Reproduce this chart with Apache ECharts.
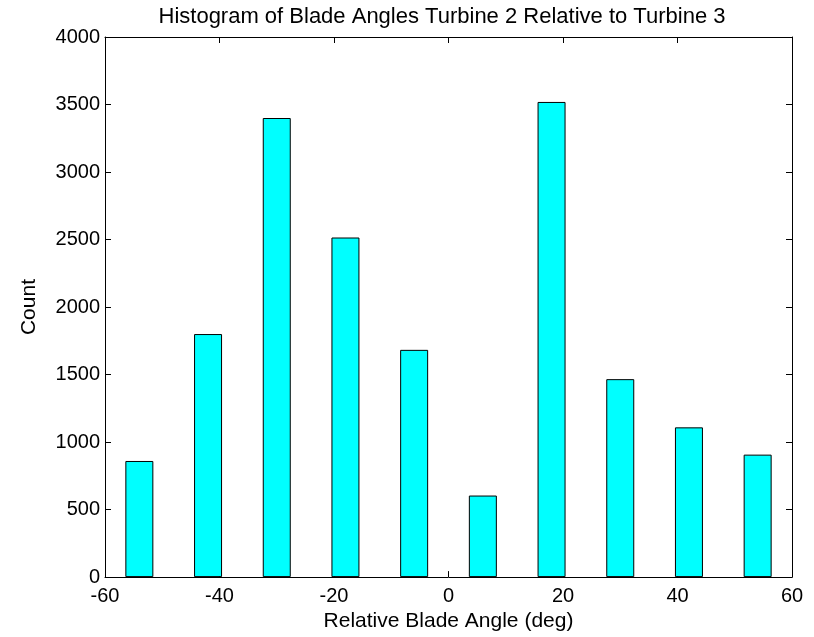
<!DOCTYPE html>
<html>
<head>
<meta charset="utf-8">
<script src="https://cdn.jsdelivr.net/npm/echarts@6/dist/echarts.min.js"></script>
<style>
html,body{margin:0;padding:0;background:#fff;}
#main{width:814px;height:637px;}
</style>
</head>
<body>
<div id="main"></div>
<script>
var binCenters = [-54, -42, -30, -18, -6, 6, 18, 30, 42, 54];
var counts = [860, 1800, 3400, 2515, 1683, 604, 3519, 1466, 1109, 907];
var xTicks = [-60, -40, -20, 0, 20, 40, 60];
var yTicks = [0, 500, 1000, 1500, 2000, 2500, 3000, 3500, 4000];

var font = 'Liberation Sans, Arial, Helvetica, sans-serif';
var chart = echarts.init(document.getElementById('main'), null, {renderer: 'canvas'});
var data = binCenters.map(function (c, i) { return [c, counts[i]]; });

var axisCommon = {
  axisLine: {show: true, onZero: false, lineStyle: {color: '#000', width: 1}},
  axisTick: {show: true, inside: true, length: 6, lineStyle: {color: '#000'}},
  splitLine: {show: false}
};

chart.setOption({
  backgroundColor: '#fff',
  animation: false,
  title: {
    text: 'Histogram of Blade Angles Turbine 2 Relative to Turbine 3',
    left: 437, top: 1, textAlign: 'center',
    textStyle: {fontFamily: font, fontSize: 22, fontWeight: 'normal', color: '#000'}
  },
  grid: {left: 105, right: 22, top: 37, bottom: 59, containLabel: false},
  xAxis: [
    Object.assign({
      type: 'value', min: xTicks[0], max: xTicks[xTicks.length - 1], interval: 20, position: 'bottom',
      name: 'Relative Blade Angle (deg)', nameLocation: 'middle', nameGap: 23,
      nameTextStyle: {fontFamily: font, fontSize: 21, color: '#000', verticalAlign: 'top'},
      axisLabel: {fontFamily: font, fontSize: 20, color: '#000', margin: 9}
    }, axisCommon),
    Object.assign({
      type: 'value', min: xTicks[0], max: xTicks[xTicks.length - 1], interval: 20, position: 'top',
      axisLabel: {show: false}
    }, axisCommon)
  ],
  yAxis: [
    Object.assign({
      type: 'value', min: yTicks[0], max: yTicks[yTicks.length - 1], interval: 500, position: 'left',
      name: 'Count', nameLocation: 'middle', nameGap: 65,
      nameTextStyle: {fontFamily: font, fontSize: 21, color: '#000'},
      axisLabel: {fontFamily: font, fontSize: 20, color: '#000', margin: 5,
        formatter: function (v) { return String(v); }}
    }, axisCommon),
    Object.assign({
      type: 'value', min: yTicks[0], max: yTicks[yTicks.length - 1], interval: 500, position: 'right',
      axisLabel: {show: false}
    }, axisCommon)
  ],
  series: [{
    type: 'bar',
    xAxisIndex: 0, yAxisIndex: 0,
    data: data,
    barWidth: 28,
    itemStyle: {color: '#00FFFF', borderColor: '#000', borderWidth: 1}
  }]
});
</script>
</body>
</html>
